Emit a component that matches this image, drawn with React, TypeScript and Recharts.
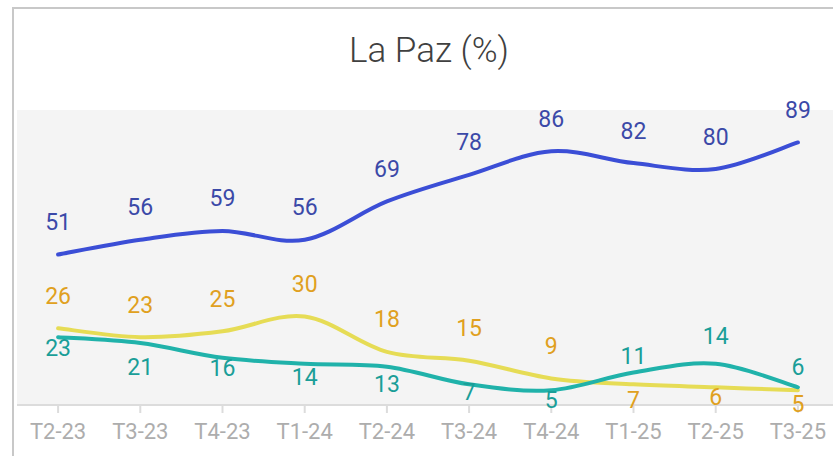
import React from "react";
import { LineChart, Line, XAxis, YAxis, CartesianGrid, LabelList } from "recharts";

const categories = ["T2-23", "T3-23", "T4-23", "T1-24", "T2-24", "T3-24", "T4-24", "T1-25", "T2-25", "T3-25"];
const blueValues = [51, 56, 59, 56, 69, 78, 86, 82, 80, 89];
const yellowValues = [26, 23, 25, 30, 18, 15, 9, 7, 6, 5];
const tealValues = [23, 21, 16, 14, 13, 7, 5, 11, 14, 6];

// label vertical offsets (px) relative to each point
const blueLabelDy = [-32, -32, -32, -32, -32, -32, -32, -32, -32, -32];
const yellowLabelDy = [-32, -32, -32, -32, -32, -32, -32, 16, 10, 14];
const tealLabelDy = [11, 24, 11, 14, 18, 8, 10, -16, -27, -20];

const data = categories.map((c, i) => ({
  cat: c,
  blue: blueValues[i],
  yellow: yellowValues[i],
  teal: tealValues[i],
}));

const FONT = "Roboto, 'Noto Sans', sans-serif";

// Catmull-Rom style cardinal curve factory (passes through every point)
const cardinalCurve = (context: any) => {
  let pts: number[][] = [];
  return {
    areaStart() {},
    areaEnd() {},
    lineStart() {
      pts = [];
    },
    point(x: number, y: number) {
      pts.push([+x, +y]);
    },
    lineEnd() {
      const n = pts.length;
      if (!n) return;
      context.moveTo(pts[0][0], pts[0][1]);
      const k = 1 / 6;
      for (let i = 0; i < n - 1; i++) {
        const p0 = pts[Math.max(i - 1, 0)];
        const p1 = pts[i];
        const p2 = pts[i + 1];
        const p3 = pts[Math.min(i + 2, n - 1)];
        context.bezierCurveTo(
          p1[0] + (p2[0] - p0[0]) * k,
          p1[1] + (p2[1] - p0[1]) * k,
          p2[0] - (p3[0] - p1[0]) * k,
          p2[1] - (p3[1] - p1[1]) * k,
          p2[0],
          p2[1]
        );
      }
    },
  };
};

const makeLabel = (offsets: number[], color: string) => (props: any) => {
  const { x, y, value, index } = props;
  return (
    <text
      x={x}
      y={y + offsets[index]}
      textAnchor="middle"
      dominantBaseline="central"
      fill={color}
      fontSize={23}
      fontFamily={FONT}
    >
      {value}
    </text>
  );
};

export default function App() {
  return (
    <div style={{ position: "absolute", left: 0, top: 0, width: 833, height: 456, overflow: "hidden", background: "#fff" }}>
      <div
        style={{
          position: "absolute",
          left: 12,
          top: 7,
          width: 900,
          height: 500,
          borderTop: "2px solid #c8c8c8",
          borderLeft: "2px solid #c8c8c8",
        }}
      />
      <div
        style={{
          position: "absolute",
          left: 0,
          width: 858,
          top: 30,
          textAlign: "center",
          fontFamily: FONT,
          fontSize: 35,
          fontWeight: 300,
          color: "#404040",
        }}
      >
        La Paz (%)
      </div>
      <div style={{ position: "absolute", left: 0, top: 0 }}>
        <LineChart width={850} height={456} data={data} margin={{ top: 110, right: 11, left: 17, bottom: 0 }}>
          <CartesianGrid horizontal={false} vertical={false} fill="#f4f4f4" />
          <XAxis
            dataKey="cat"
            scale="band"
            height={51}
            stroke="#dcdcdc"
            strokeWidth={2}
            tickSize={8}
            tick={{ fill: "#adadad", fontSize: 22, fontFamily: FONT, dy: 8 }}
            interval={0}
          />
          <YAxis hide domain={[0, 100]} />
          <Line
            type={cardinalCurve as any}
            dataKey="blue"
            stroke="#3b4ed6"
            strokeWidth={4}
            dot={false}
            isAnimationActive={false}
            strokeLinecap="round"
          >
            <LabelList dataKey="blue" content={makeLabel(blueLabelDy, "#3b49a8")} />
          </Line>
          <Line
            type={cardinalCurve as any}
            dataKey="yellow"
            stroke="#e6dc55"
            strokeWidth={4}
            dot={false}
            isAnimationActive={false}
            strokeLinecap="round"
          >
            <LabelList dataKey="yellow" content={makeLabel(yellowLabelDy, "#e0a020")} />
          </Line>
          <Line
            type={cardinalCurve as any}
            dataKey="teal"
            stroke="#20b2aa"
            strokeWidth={4}
            dot={false}
            isAnimationActive={false}
            strokeLinecap="round"
          >
            <LabelList dataKey="teal" content={makeLabel(tealLabelDy, "#1a9e98")} />
          </Line>
        </LineChart>
      </div>
    </div>
  );
}
